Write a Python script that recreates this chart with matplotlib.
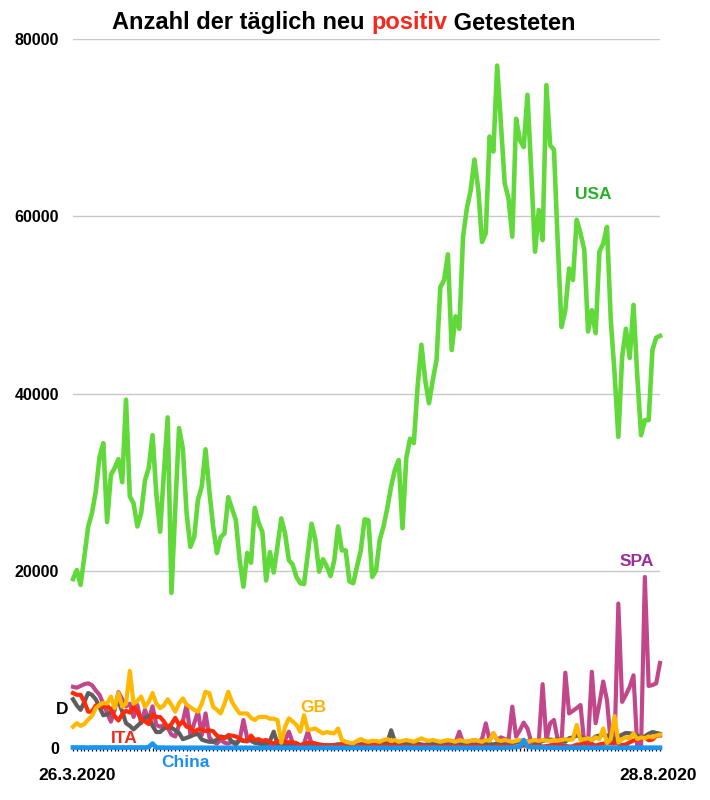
import matplotlib
matplotlib.use("Agg")
import matplotlib.pyplot as plt
import numpy as np

plt.rcParams['font.family'] = ['Liberation Sans', 'DejaVu Sans']

start_label = "26.3.2020"
end_label = "28.8.2020"
y_ticks = [0, 20000, 40000, 60000, 80000]
y_ticklabels = ["0", "20000", "40000", "60000", "80000"]

usa = [19060, 20080, 18400, 21600, 24960, 26500, 28900, 32800, 34400, 25500,
       30800, 31600, 32600, 30000, 39300, 28400, 27600, 25000, 26500, 30200,
       31600, 35300, 28700, 24400, 31000, 37300, 17500, 27000, 36100, 33800,
       26500, 22700, 23800, 28000, 29500, 33700, 29000, 25000, 22000, 23800,
       24200, 28300, 27000, 25700, 21200, 18200, 22000, 20900, 27100, 25400,
       24400, 18900, 22100, 19800, 22800, 25900, 24200, 21200, 20700, 19300,
       18600, 18500, 21900, 25300, 23500, 19900, 21300, 20500, 19400, 21200,
       25000, 22300, 22300, 18800, 18600, 20500, 22300, 25800, 25700, 19300,
       20000, 23500, 25000, 27100, 29500, 31400, 32500, 24800, 32700, 34900,
       34400, 40800, 45500, 41500, 38900, 41500, 43800, 52000, 52800, 55700,
       44900, 48700, 47300, 57700, 60900, 62900, 66400, 63100, 57100, 58100,
       69000, 67300, 77000, 70400, 63700, 62000, 57700, 71000, 68600, 67800,
       73700, 65000, 56000, 60700, 57300, 74800, 68000, 67500, 57000, 47500,
       49400, 54100, 52800, 59600, 58100, 56200, 47000, 49400, 46800, 56000,
       56900, 58800, 48300, 42300, 35100, 44100, 47300, 44000, 50000, 42000,
       35300, 37000, 37000, 44900, 46300, 46500]

spa = [6900, 6800, 7000, 7200, 7300, 7100, 6500, 6000, 5000, 4000,
       2970, 4300, 6300, 5500, 4700, 5000, 3500, 4850, 2800, 4300,
       3100, 4700, 2600, 2400, 2600, 2300, 1500, 1300, 2600, 3000,
       4850, 1470, 2800, 4100, 1470, 3900, 1200, 700, 500, 900,
       600, 500, 700, 600, 900, 3160, 1100, 800, 600, 500,
       700, 400, 300, 500, 400, 300, 900, 1840, 600, 400,
       300, 500, 1840, 500, 400, 300, 300, 350, 300, 350,
       400, 300, 250, 300, 350, 300, 400, 350, 300, 350,
       400, 300, 350, 450, 400, 350, 300, 400, 350, 300,
       400, 450, 400, 350, 500, 600, 500, 550, 600, 700,
       800, 600, 1840, 600, 700, 800, 900, 700, 1000, 2780,
       900, 1650, 900, 1200, 1000, 900, 4660, 1280, 2000, 2860,
       2200, 700, 500, 800, 7200, 900, 2800, 3160, 900, 600,
       8500, 3900, 4200, 4500, 4850, 520, 500, 8600, 2800, 5000,
       7500, 5400, 520, 500, 16300, 5200, 6000, 6900, 8200, 150,
       150, 19300, 7000, 7100, 7300, 9600]

ger = [5500, 4800, 4300, 5200, 6200, 6000, 5500, 4600, 3700, 3800,
       4000, 4900, 5300, 4100, 2800, 2500, 2100, 2500, 2900, 3400,
       3600, 2500, 1800, 1800, 2200, 2350, 2300, 2000, 1700, 1000,
       1150, 1300, 1500, 1600, 950, 800, 700, 700, 950, 1300,
       1200, 1250, 700, 400, 900, 800, 900, 900, 600, 600,
       350, 500, 800, 1840, 500, 400, 300, 450, 350, 300,
       200, 300, 350, 400, 500, 350, 300, 250, 200, 300,
       400, 350, 300, 250, 200, 300, 400, 450, 350, 300,
       400, 350, 500, 600, 2000, 700, 600, 500, 550, 450,
       400, 500, 350, 300, 400, 500, 450, 400, 350, 300,
       400, 350, 400, 450, 500, 400, 350, 450, 500, 550,
       450, 400, 500, 550, 600, 500, 600, 700, 650, 600,
       750, 800, 700, 600, 800, 900, 950, 900, 1000, 800,
       700, 1100, 1200, 1400, 1300, 1100, 1000, 900, 1300, 1400,
       1500, 1400, 1200, 1000, 1300, 1500, 1700, 1650, 1600, 1400,
       1200, 1300, 1600, 1800, 1700, 1600]

ita = [6200, 6000, 6000, 5200, 4100, 4100, 4800, 4700, 4600, 4800,
       4300, 3600, 3100, 3800, 4200, 4000, 4700, 4100, 3200, 3000,
       2700, 3800, 3500, 3500, 3000, 2300, 2700, 3400, 2600, 3000,
       2400, 2300, 1800, 2100, 2100, 1900, 2000, 1900, 1400, 1200,
       1100, 1450, 1400, 1300, 1100, 800, 750, 1400, 900, 1000,
       800, 900, 700, 450, 800, 650, 650, 650, 650, 550,
       300, 400, 600, 600, 500, 400, 350, 200, 300, 300,
       200, 500, 300, 200, 300, 300, 200, 400, 200, 350,
       350, 300, 200, 350, 350, 250, 250, 200, 200, 150,
       200, 300, 250, 200, 200, 150, 150, 200, 200, 220,
       240, 200, 200, 150, 200, 230, 280, 200, 230, 170,
       120, 160, 230, 230, 250, 220, 220, 190, 130, 280,
       300, 250, 280, 260, 170, 210, 290, 390, 380, 300,
       240, 160, 190, 380, 400, 550, 350, 460, 260, 410,
       480, 520, 570, 630, 480, 320, 400, 640, 850, 950,
       1070, 1210, 880, 950, 1370, 1410]

gbr = [2400, 2800, 2500, 2700, 3200, 3600, 4500, 4850, 5100, 5000,
       5800, 4500, 6200, 4650, 5000, 8700, 5000, 5300, 5800, 4650,
       5200, 6200, 5000, 4500, 4800, 5500, 4850, 4100, 5050, 5600,
       4900, 4600, 4300, 4100, 5000, 6350, 6200, 4650, 4300, 3900,
       5000, 6350, 5200, 4500, 3900, 3900, 3900, 3400, 3160, 3500,
       3500, 3500, 3300, 3300, 3160, 600, 2400, 3350, 3000, 2600,
       1840, 3700, 2030, 2100, 2200, 1900, 1650, 1800, 1700, 1650,
       2200, 900, 700, 600, 520, 800, 1000, 800, 700, 800,
       800, 700, 900, 1000, 800, 900, 700, 800, 900, 800,
       700, 900, 1100, 900, 800, 900, 800, 700, 800, 900,
       800, 700, 900, 800, 700, 800, 900, 800, 700, 900,
       800, 1650, 900, 800, 900, 800, 700, 800, 900, 800,
       700, 800, 900, 800, 900, 850, 800, 900, 850, 900,
       1000, 900, 1000, 2600, 900, 1000, 1100, 900, 1200, 1000,
       2200, 550, 1000, 3600, 600, 1000, 1200, 1100, 1650, 1000,
       1200, 1100, 1300, 1200, 1400, 1500]

chn = [60, 50, 50, 60, 40, 50, 60, 50, 60, 50,
       60, 50, 50, 60, 50, 60, 50, 50, 60, 50,
       100, 500, 50, 40, 30, 30, 20, 20, 20, 20,
       20, 20, 20, 20, 20, 20, 20, 20, 20, 20,
       20, 20, 20, 20, 20, 20, 20, 20, 20, 20,
       20, 20, 20, 20, 20, 20, 20, 20, 20, 20,
       20, 20, 20, 20, 20, 20, 20, 20, 20, 20,
       20, 20, 20, 20, 20, 20, 20, 20, 20, 20,
       20, 20, 20, 20, 20, 20, 20, 20, 20, 20,
       20, 20, 20, 20, 20, 20, 20, 20, 20, 20,
       20, 20, 20, 20, 20, 20, 20, 20, 20, 20,
       20, 20, 20, 20, 40, 60, 80, 100, 150, 900,
       150, 100, 80, 70, 60, 50, 40, 40, 30, 30,
       30, 30, 30, 30, 30, 30, 30, 30, 30, 30,
       30, 30, 30, 30, 30, 30, 30, 30, 30, 30,
       30, 30, 30, 30, 30, 30]

series = [
    ("SPA", spa, "#c2478a"),
    ("D", ger, "#5e5e5e"),
    ("ITA", ita, "#ff2a0a"),
    ("GB", gbr, "#ffb700"),
]

fig = plt.figure(figsize=(7.1, 8.0), dpi=100)
ax = fig.add_axes([73/710, 52/800, 587/710, 709/800])

days = np.arange(len(usa))
ax.plot(days, usa, color="#62d93a", lw=3.3, solid_joinstyle="round", clip_on=False, zorder=3)
for name, vals, col in series:
    ax.plot(days, vals, color=col, lw=3.0, solid_joinstyle="round", clip_on=False, zorder=3)
ax.plot(days, chn, color="#1a96f0", lw=3.4, solid_joinstyle="round", clip_on=False, zorder=4)

ax.set_xlim(0, len(usa) - 1)
ax.set_ylim(0, 80000)
for s in ax.spines.values():
    s.set_visible(False)
ax.set_yticks(y_ticks)
ax.set_yticklabels(y_ticklabels, fontsize=11.5, fontweight="bold")
ax.tick_params(axis="y", length=0, pad=10)
ax.set_xticks(days)
ax.set_xticklabels([])
ax.tick_params(axis="x", length=2.5, width=0.9, color="black", direction="out")
for v in y_ticks[1:]:
    ax.axhline(v, color="#c8c8c8", lw=1.0, zorder=1)

lab_kw = dict(fontsize=12.5, fontweight="bold", ha="center", va="center", clip_on=False)
ax.text(137.3, 62400, "USA", color="#27b226", **lab_kw)
ax.text(148.9, 21000, "SPA", color="#9a2d96", **lab_kw)
ax.text(63.4, 4600, "GB", color="#ffb300", **lab_kw)
ax.text(-2.9, 4300, "D", color="black", **lab_kw)
ax.text(13.5, 1100, "ITA", color="#f02a1a", **lab_kw)
ax.text(29.8, -1650, "China", color="#1a8ff0", **lab_kw)
ax.text(1.0, -3100, start_label, color="black", **lab_kw)
ax.text(154.5, -3100, end_label, color="black", **lab_kw)

# title with coloured word
parts = [("Anzahl der täglich neu ", "black"), ("positiv", "#f4281c"), (" Getesteten", "black")]
fig.canvas.draw()
r = fig.canvas.get_renderer()
widths = []
for txt, col in parts:
    t = fig.text(0, 0, txt, fontsize=17, fontweight="bold")
    widths.append(t.get_window_extent(r).width)
    t.remove()
total = sum(widths)
x0 = 344 - total / 2
for (txt, col), w in zip(parts, widths):
    fig.text(x0 / 710, 1 - 23 / 800, txt, fontsize=17, fontweight="bold", color=col,
             ha="left", va="center")
    x0 += w

fig.savefig("out.png", dpi=100)
